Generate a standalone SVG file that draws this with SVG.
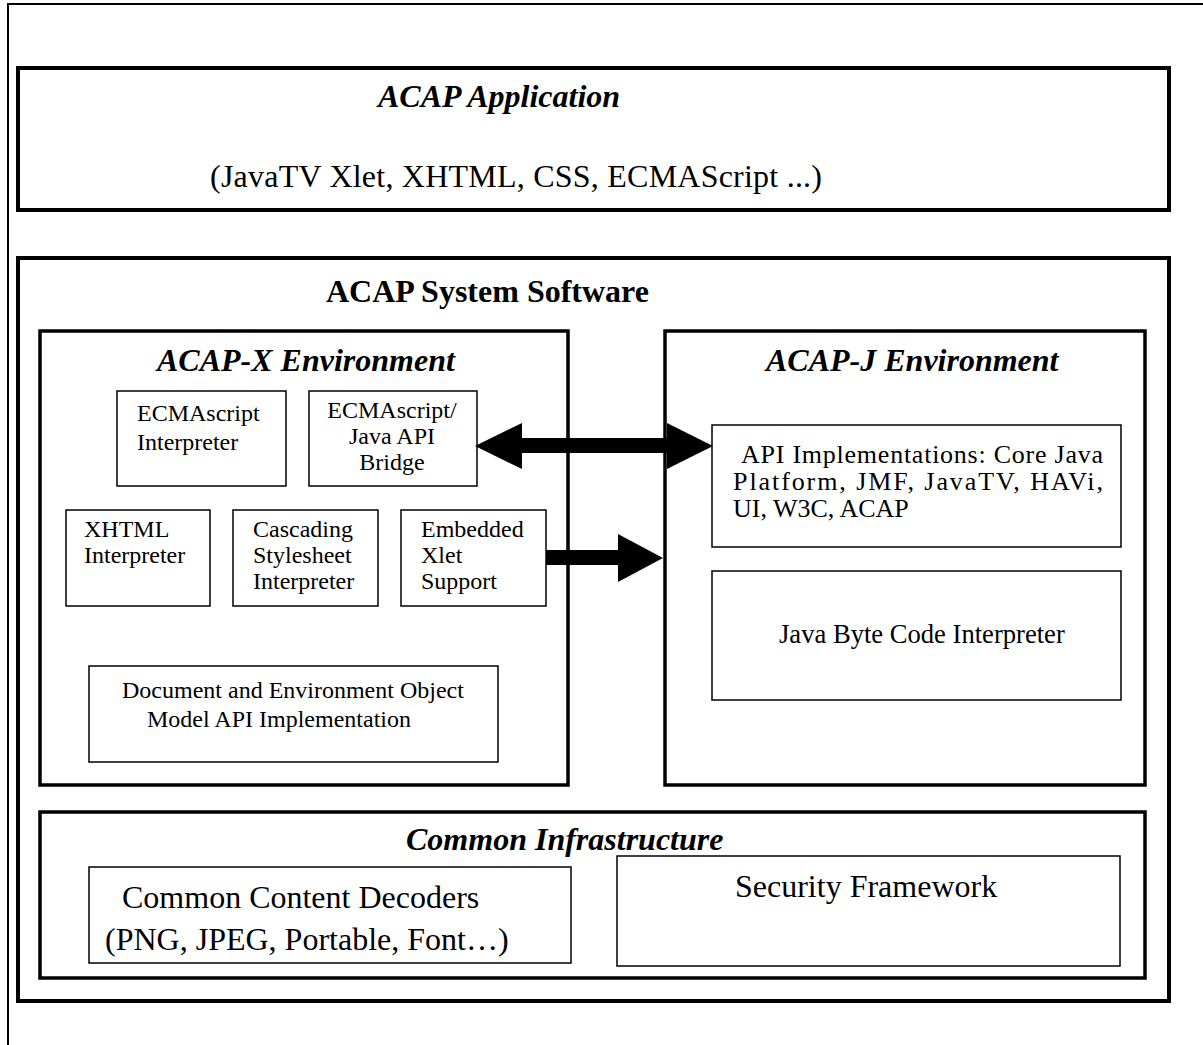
<svg xmlns="http://www.w3.org/2000/svg" width="1203" height="1045" viewBox="0 0 1203 1045">
<style>
text{font-family:"Liberation Serif","Times New Roman",serif;fill:#000}
.big{stroke:#000;fill:none;stroke-width:4}
.mid{stroke:#000;fill:none;stroke-width:3.5}
.sm{stroke:#000;fill:none;stroke-width:1.5}
.t32{font-size:32px}
.ti{font-size:32px;font-weight:bold;font-style:italic}
.tb{font-size:32px;font-weight:bold}
.s24{font-size:24px}
.s26{font-size:26px}
</style>
<rect width="1203" height="1045" fill="#fff"/>
<path d="M8,1045 V4 H1203" fill="none" stroke="#000" stroke-width="2"/>
<g id="app">
<rect class="big" x="18" y="68" width="1151" height="142"/>
<text class="ti" x="378" y="107">ACAP Application</text>
<text class="t32" x="210" y="187" textLength="612" lengthAdjust="spacing">(JavaTV Xlet, XHTML, CSS, ECMAScript ...)</text>
</g>
<g id="system">
<rect class="big" x="18" y="258" width="1151" height="743"/>
<text class="tb" x="326" y="302">ACAP System Software</text>
</g>
<g id="acapx">
<rect class="mid" x="40" y="331" width="528" height="454"/>
<text class="ti" x="157" y="371">ACAP-X Environment</text>
</g>
<g id="ecma">
<rect class="sm" x="117" y="391" width="169" height="95"/>
<text class="s24" x="137" y="421">ECMAscript</text>
<text class="s24" x="137" y="450">Interpreter</text>
</g>
<g id="bridge">
<rect class="sm" x="309" y="391" width="168" height="95"/>
<text class="s24" x="392" y="418" text-anchor="middle">ECMAscript/</text>
<text class="s24" x="392" y="444" text-anchor="middle">Java API</text>
<text class="s24" x="392" y="470" text-anchor="middle">Bridge</text>
</g>
<g id="xhtml">
<rect class="sm" x="66" y="510" width="144" height="96"/>
<text class="s24" x="84" y="537">XHTML</text>
<text class="s24" x="84" y="563">Interpreter</text>
</g>
<g id="css">
<rect class="sm" x="233" y="510" width="145" height="96"/>
<text class="s24" x="253" y="537">Cascading</text>
<text class="s24" x="253" y="563">Stylesheet</text>
<text class="s24" x="253" y="589">Interpreter</text>
</g>
<g id="xlet">
<rect class="sm" x="401" y="510" width="145" height="96"/>
<text class="s24" x="421" y="537">Embedded</text>
<text class="s24" x="421" y="563">Xlet</text>
<text class="s24" x="421" y="589">Support</text>
</g>
<g id="dom">
<rect class="sm" x="89" y="666" width="409" height="96"/>
<text class="s24" x="122" y="698">Document and Environment Object</text>
<text class="s24" x="147" y="727">Model API Implementation</text>
</g>
<g id="acapj">
<rect class="mid" x="665" y="331" width="480" height="454"/>
<text class="ti" x="766" y="371">ACAP-J Environment</text>
</g>
<g id="api">
<rect class="sm" x="712" y="425" width="409" height="122"/>
<text class="s26" x="741" y="463" textLength="362" lengthAdjust="spacing">API Implementations: Core Java</text>
<text class="s26" x="733" y="490" textLength="370" lengthAdjust="spacing">Platform, JMF, JavaTV, HAVi,</text>
<text class="s26" x="733" y="517">UI, W3C, ACAP</text>
</g>
<g id="jvm">
<rect class="sm" x="712" y="571" width="409" height="129"/>
<text class="s26" x="779" y="643" style="font-size:26.6px">Java Byte Code Interpreter</text>
</g>
<g id="common">
<rect class="mid" x="40" y="812" width="1105" height="166"/>
<text class="ti" x="406" y="850">Common Infrastructure</text>
</g>
<g id="decoders">
<rect class="sm" x="89" y="867" width="482" height="96"/>
<text class="t32" x="122" y="908">Common Content Decoders</text>
<text class="t32" x="105" y="950">(PNG, JPEG, Portable, Font…)</text>
</g>
<g id="security">
<rect class="sm" x="617" y="856" width="503" height="110"/>
<text class="t32" x="735" y="897">Security Framework</text>
</g>
<g id="connectors">
<polygon points="475,446 522,423 522,438 667,438 667,423 713,446 667,469 667,453 522,453 522,469" fill="#000"/>
<polygon points="546,550 618,550 618,534 663,558 618,582 618,565 546,565" fill="#000"/>
</g>
</svg>
